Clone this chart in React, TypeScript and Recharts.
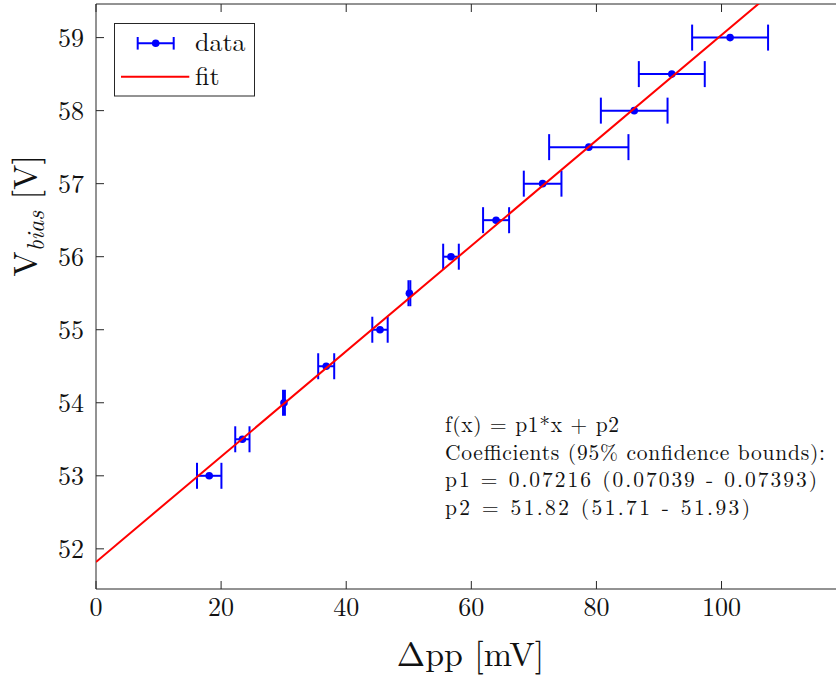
import React from 'react';
import {
  ComposedChart,
  Scatter,
  XAxis,
  YAxis,
  ErrorBar,
  ReferenceLine,
  Customized,
} from 'recharts';

// ---- data ----
const vBias = [53, 53.5, 54, 54.5, 55, 55.5, 56, 56.5, 57, 57.5, 58, 58.5, 59];
const deltaPP = [18.1, 23.4, 30.05, 36.8, 45.4, 50.1, 56.75, 63.96, 71.4, 78.78, 86.04, 92.05, 101.37];
const deltaPPErr = [1.95, 1.14, 0.15, 1.28, 1.23, 0.15, 1.25, 2.08, 3.01, 6.34, 5.33, 5.27, 6.07];

// fit line endpoints (f(x) = 0.07216 x + 51.82)
const fitX = [0, 118.3];
const fitY = [51.82, 60.356];

const xTicks = [0, 20, 40, 60, 80, 100];
const yTicks = [52, 53, 54, 55, 56, 57, 58, 59];
const xDomain: [number, number] = [0, 118.3];
const yDomain: [number, number] = [51.45, 59.46];

const annotationLines = [
  'f(x) = p1*x + p2',
  'Coefficients (95% confidence bounds):',
  'p1 = 0.07216 (0.07039 - 0.07393)',
  'p2 = 51.82 (51.71 - 51.93)',
];
const annotationWidths = [174, 380, 372, 305];

const data = vBias.map((v, i) => ({ x: deltaPP[i], y: v, err: deltaPPErr[i] }));
const fitData = fitX.map((x, i) => ({ x, y: fitY[i] }));

const FONT = '"Latin Modern Roman", "CMU Serif", "Liberation Serif", serif';
const AX = '#262626';
const TXT = '#111';
const BLUE = '#0000ff';
const RED = '#ff0000';

const W = 836;
const H = 677;

// tick lengths in data units (~8px)
const xTickLen = 8 / (585 / (yDomain[1] - yDomain[0]));
const yTickLen = 8 / (740 / (xDomain[1] - xDomain[0]));

const XTick = (p: any) => (
  <text x={p.x} y={p.y} dy="0.71em" textAnchor="middle" fontFamily={FONT} fontSize={26} fill={TXT}>
    {p.payload.value}
  </text>
);
const YTick = (p: any) => (
  <text x={p.x} y={p.y} dy="0.355em" textAnchor="end" fontFamily={FONT} fontSize={26} fill={TXT}>
    {p.payload.value}
  </text>
);

const Overlay = () => (
  <g fontFamily={FONT} fill={TXT}>
    {/* y label */}
    <text transform="translate(37,216) rotate(-90)" textAnchor="middle" fontSize={34}>
      V
      <tspan fontStyle="italic" fontSize={24} dy={7}>bias</tspan>
      <tspan dy={-7} fontSize={34}> [V]</tspan>
    </text>
    {/* x label */}
    <text x={470.5} y={666} textAnchor="middle" fontSize={34}>
      Δpp [mV]
    </text>
    {/* annotation */}
    {annotationLines.map((s, i) => (
      <text
        key={i}
        x={445}
        y={432 + i * 27.6}
        fontSize={21.5}
        textLength={annotationWidths[i]}
        lengthAdjust="spacing"
      >
        {s}
      </text>
    ))}
    {/* legend */}
    <rect x={114.5} y={23.5} width={140} height={72.5} fill="#fff" stroke={AX} strokeWidth={1} />
    <line x1={137.7} y1={43.3} x2={173.7} y2={43.3} stroke={BLUE} strokeWidth={2} />
    <line x1={137.7} y1={37} x2={137.7} y2={49.6} stroke={BLUE} strokeWidth={2} />
    <line x1={173.7} y1={37} x2={173.7} y2={49.6} stroke={BLUE} strokeWidth={2} />
    <circle cx={155.7} cy={43.3} r={3.8} fill={BLUE} />
    <text x={195} y={51} fontSize={26}>data</text>
    <line x1={121} y1={76.7} x2={189.3} y2={76.7} stroke={RED} strokeWidth={2} />
    <text x={195} y={85} fontSize={26}>fit</text>
  </g>
);

const Dot = (p: any) => <circle cx={p.cx} cy={p.cy} r={3.8} fill={BLUE} />;
const NoShape = () => <g />;

export default function App() {
  return (
    <div style={{ position: 'absolute', left: 0, top: 0, width: W, height: H, background: '#fff', fontFamily: FONT }}>
      <ComposedChart
        width={W}
        height={H}
        margin={{ top: 4, right: 0, left: 0, bottom: 0 }}
        style={{ background: '#fff', fontFamily: FONT }}
      >
        <XAxis
          type="number"
          dataKey="x"
          domain={xDomain}
          ticks={xTicks}
          allowDataOverflow
          height={88}
          axisLine={{ stroke: AX, strokeWidth: 1 }}
          tickLine={false}
          tickSize={0}
          tickMargin={9}
          tick={XTick}
        />
        <YAxis
          type="number"
          dataKey="y"
          domain={yDomain}
          ticks={yTicks}
          allowDataOverflow
          width={96}
          axisLine={{ stroke: AX, strokeWidth: 1 }}
          tickLine={false}
          tickSize={0}
          tickMargin={12}
          tick={YTick}
        />
        <ReferenceLine y={yDomain[1]} stroke={AX} strokeWidth={1} ifOverflow="visible" />
        {xTicks.map((t) => (
          <ReferenceLine
            key={'b' + t}
            segment={[{ x: t, y: yDomain[0] }, { x: t, y: yDomain[0] + xTickLen }]}
            stroke={AX}
            strokeWidth={1}
            ifOverflow="visible"
          />
        ))}
        {xTicks.map((t) => (
          <ReferenceLine
            key={'t' + t}
            segment={[{ x: t, y: yDomain[1] }, { x: t, y: yDomain[1] - xTickLen }]}
            stroke={AX}
            strokeWidth={1}
            ifOverflow="visible"
          />
        ))}
        {yTicks.map((t) => (
          <ReferenceLine
            key={'l' + t}
            segment={[{ x: xDomain[0], y: t }, { x: xDomain[0] + yTickLen, y: t }]}
            stroke={AX}
            strokeWidth={1}
            ifOverflow="visible"
          />
        ))}
        <Scatter data={data} shape={Dot} isAnimationActive={false}>
          <ErrorBar dataKey="err" direction="x" stroke={BLUE} strokeWidth={2} width={13} isAnimationActive={false} />
        </Scatter>
        <Scatter
          data={fitData}
          shape={NoShape}
          line={{ stroke: RED, strokeWidth: 2 }}
          lineType="joint"
          isAnimationActive={false}
        />
        <Customized component={Overlay} />
      </ComposedChart>
    </div>
  );
}
